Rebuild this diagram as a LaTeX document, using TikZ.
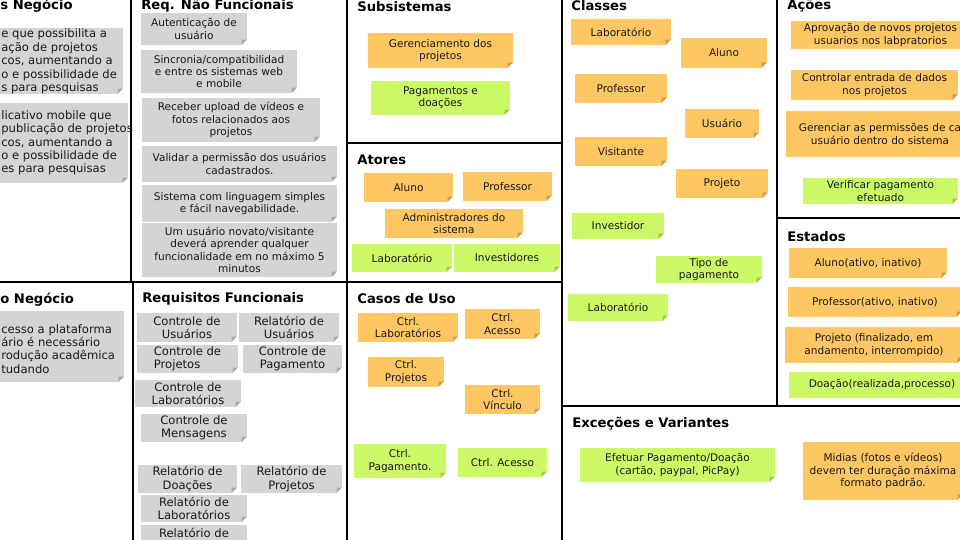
\documentclass[tikz,border=0pt]{standalone}
\usepackage{fontspec}
\setmainfont{DejaVu Sans}
\usetikzlibrary{positioning}
\definecolor{noteorange}{RGB}{255,199,99}
\definecolor{notegreen}{RGB}{204,250,102}
\definecolor{notegrey}{RGB}{212,212,212}
\tikzstyle{note} = [
    draw=none,
    inner sep=0pt,
    align=center,
    text=black!90,
    font=\fontsize{6}{7}\selectfont,
    path picture={
        \fill[white] ([xshift=-3pt]path picture bounding box.south east)
            -- (path picture bounding box.south east)
            -- ([yshift=3pt]path picture bounding box.south east) -- cycle;
        \fill[black, opacity=0.2] ([xshift=-3pt]path picture bounding box.south east)
            -- ([yshift=3pt]path picture bounding box.south east)
            -- ([xshift=-3pt,yshift=3pt]path picture bounding box.south east) -- cycle;
    }
]
\tikzstyle{orange_note} = [note, fill=noteorange]
\tikzstyle{green_note} = [note, fill=notegreen]
\tikzstyle{grey_note} = [note, fill=notegrey]
\tikzstyle{big_text} = [font=\fontsize{6.6}{7.6}\selectfont]
\tikzstyle{cut_text} = [big_text, anchor=west, align=left, inner sep=0pt, text=black!90]
\tikzstyle{title} = [anchor=west, inner sep=0pt, font=\fontsize{7.5}{8.5}\selectfont\bfseries]
\tikzstyle{frame} = [line width=1pt, black]

\begin{document}
\begin{tikzpicture}[
    x=0.02cm, y=-0.02cm,
    wh/.style 2 args={minimum width=#1*0.02cm, minimum height=#2*0.02cm}
]
\useasboundingbox (0,0) rectangle (960,540);
\clip (0,0) rectangle (960,540);

% frames
\draw[frame] (131,0) -- (131,282);
\draw[frame] (0,282) -- (347,282);
\draw[frame] (133,282) -- (133,540);
\draw[frame] (347,0) -- (347,540);
\draw[frame] (347,143) -- (562,143);
\draw[frame] (347,282) -- (562,282);
\draw[frame] (562,0) -- (562,540);
\draw[frame] (777,0) -- (777,406);
\draw[frame] (777,218) -- (960,218);
\draw[frame] (562,406) -- (960,406);

% titles
\node[title] (t_neg1) at (0,6) {s Negócio};
\node[title] (t_neg2) at (0,300) {o Negócio};
\node[title] (t_rnf) at (141,6) {Req. Não Funcionais};
\node[title] (t_rf) at (142,299) {Requisitos Funcionais};
\node[title] (t_sub) at (357,7) {Subsistemas};
\node[title] (t_ator) at (357,160) {Atores};
\node[title] (t_caso) at (357,299) {Casos de Uso};
\node[title] (t_class) at (571,6) {Classes};
\node[title] (t_acao) at (787,6) {Ações};
\node[title] (t_est) at (787,237) {Estados};
\node[title] (t_exc) at (572,424) {Exceções e Variantes};

% negocio
\node[grey_note, wh={173}{66}] (neg1) at (36.5,61) {};
\node[cut_text] (neg1_txt) at (1,61.5) {e que possibilita a\\ação de projetos\\cos, aumentando a\\o e possibilidade de\\s para pesquisas};
\node[grey_note, wh={178}{80}] (neg2) at (39,143) {};
\node[cut_text] (neg2_txt) at (1,143) {licativo mobile que\\publicação de projetos\\cos, aumentando a\\o e possibilidade de\\es para pesquisas};
\node[grey_note, wh={174}{71}] (neg3) at (37,346.5) {};
\node[cut_text] (neg3_txt) at (1,349) {cesso a plataforma\\ário é necessário\\rodução acadêmica\\tudando};

% req. nao funcionais
\node[grey_note, wh={106}{32}] (rnf_aut) at (194,29) {Autenticação de\\usuário};
\node[grey_note, wh={156}{43}] (rnf_sinc) at (219,71.5) {Sincronia/compatibilidad\\e entre os sistemas web\\e mobile};
\node[grey_note, wh={178}{44}] (rnf_upl) at (231,120) {Receber upload de vídeos e\\fotos relacionados aos\\projetos};
\node[grey_note, wh={195}{36}] (rnf_val) at (239.5,164) {Validar a permissão dos usuários\\cadastrados.};
\node[grey_note, wh={195}{37}] (rnf_ling) at (239.5,203.5) {Sistema com linguagem simples\\e fácil navegabilidade.};
\node[grey_note, wh={195}{54}] (rnf_novo) at (239.5,250) {Um usuário novato/visitante\\deverá aprender qualquer\\funcionalidade em no máximo 5\\minutos};

% requisitos funcionais
\node[grey_note, big_text, wh={100}{29}] (rf_cusu) at (187,327.5) {Controle de\\Usuários};
\node[grey_note, big_text, wh={100}{29}] (rf_rusu) at (289,327.5) {Relatório de\\Usuários};
\node[grey_note, big_text, wh={101}{28}, align=left] (rf_cproj) at (187.5,359) {Controle de\\Projetos};
\node[grey_note, big_text, wh={99}{28}] (rf_cpag) at (292.5,359) {Controle de\\Pagamento};
\node[grey_note, big_text, wh={106}{27}] (rf_clab) at (188,393.5) {Controle de\\Laboratórios};
\node[grey_note, big_text, wh={106}{28}] (rf_cmsg) at (194,428) {Controle de\\Mensagens};
\node[grey_note, big_text, wh={99}{28}] (rf_rdoa) at (187.5,479) {Relatório de\\Doações};
\node[grey_note, big_text, wh={101}{28}] (rf_rproj) at (291.5,479) {Relatório de\\Projetos};
\node[grey_note, big_text, wh={106}{27}] (rf_rlab) at (194,508.5) {Relatório de\\Laboratórios};
\node[grey_note, big_text, wh={106}{30}] (rf_rmais) at (194,540) {Relatório de\\\mbox{}};

% subsistemas
\node[orange_note, wh={145}{35}] (sub_ger) at (440.5,50.5) {Gerenciamento dos\\projetos};
\node[green_note, wh={139}{34}] (sub_pag) at (440.5,98) {Pagamentos e\\doações};

% atores
\node[orange_note, wh={89}{29}] (at_aluno) at (408.5,187.5) {Aluno};
\node[orange_note, wh={89}{29}] (at_prof) at (507.5,186.5) {Professor};
\node[orange_note, wh={138}{29}] (at_adm) at (454,223.5) {Administradores do\\sistema};
\node[green_note, wh={100}{28}] (at_lab) at (402,258) {Laboratório};
\node[green_note, wh={106}{28}] (at_inv) at (507,258) {Investidores};

% casos de uso
\node[orange_note, wh={100}{29}] (uc_lab) at (408,327.5) {Ctrl.\\Laboratórios};
\node[orange_note, wh={75}{30}] (uc_acesso) at (502.5,324) {Ctrl.\\Acesso};
\node[orange_note, wh={76}{30}] (uc_proj) at (406,372) {Ctrl.\\Projetos};
\node[orange_note, wh={75}{29}] (uc_vinc) at (502.5,399.5) {Ctrl.\\Vínculo};
\node[green_note, wh={92}{34}] (uc_pag) at (400,461) {Ctrl.\\Pagamento.};
\node[green_note, wh={89}{29}] (uc_acesso2) at (502.5,462.5) {Ctrl. Acesso};

% classes
\node[orange_note, wh={100}{26}] (cl_lab) at (621,32) {Laboratório};
\node[orange_note, wh={86}{30}] (cl_aluno) at (724,53) {Aluno};
\node[orange_note, wh={92}{29}] (cl_prof) at (621,88.5) {Professor};
\node[orange_note, wh={74}{29}] (cl_usu) at (722,123.5) {Usuário};
\node[orange_note, wh={92}{29}] (cl_vis) at (621,151.5) {Visitante};
\node[orange_note, wh={92}{29}] (cl_proj) at (722,183.5) {Projeto};
\node[green_note, wh={92}{26}] (cl_inv) at (618,226) {Investidor};
\node[green_note, wh={106}{27}] (cl_tipo) at (709,269.5) {Tipo de\\pagamento};
\node[green_note, wh={100}{27}] (cl_lab2) at (618,307.5) {Laboratório};

% acoes
\node[orange_note, wh={179}{28}] (ac_aprov) at (880.5,35) {Aprovação de novos projetos\\usuarios nos labpratorios};
\node[orange_note, wh={167}{30}] (ac_entr) at (874.5,85) {Controlar entrada de dados\\nos projetos};
\node[orange_note, wh={188}{46}] (ac_perm) at (880,134) {Gerenciar as permissões de ca\\usuário dentro do sistema};
\node[green_note, wh={155}{26}] (ac_verif) at (880.5,191) {Verificar pagamento\\efetuado};

% estados
\node[orange_note, wh={158}{30}] (st_aluno) at (868,263) {Aluno(ativo, inativo)};
\node[orange_note, wh={174}{30}] (st_prof) at (875,302) {Professor(ativo, inativo)};
\node[orange_note, wh={178}{36}] (st_proj) at (874,345) {Projeto (finalizado, em\\andamento, interrompido)};
\node[green_note, wh={186}{26}] (st_doa) at (882,385) {Doação(realizada,processo)};

% excecoes
\node[green_note, wh={195}{34}] (ex_pag) at (677.5,465) {Efetuar Pagamento/Doação\\(cartão, paypal, PicPay)};
\node[orange_note, wh={160}{58}] (ex_mid) at (883,471) {Midias (fotos e vídeos)\\devem ter duração máxima\\formato padrão.};
\end{tikzpicture}
\end{document}
